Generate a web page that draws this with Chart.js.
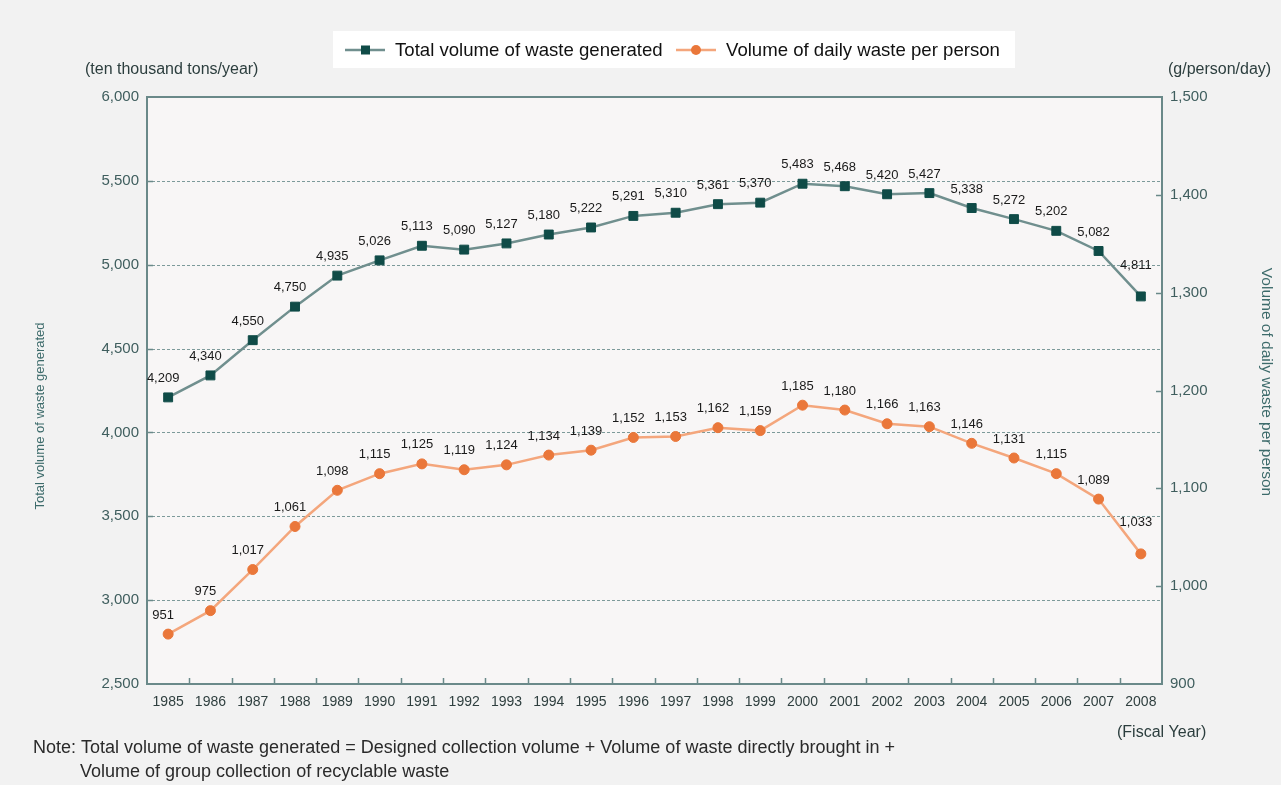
<!DOCTYPE html>
<html>
<head>
<meta charset="utf-8">
<script src="https://cdn.jsdelivr.net/npm/chart.js@4.4.1/dist/chart.umd.min.js"></script>
<style>
  html, body { margin: 0; padding: 0; background: #f2f2f2; }
  canvas { display: block; }
</style>
</head>
<body>
<canvas id="chart" width="1281" height="785"></canvas>
<script>
// Fiscal years on the category axis
const years = ['1985','1986','1987','1988','1989','1990','1991','1992','1993','1994','1995','1996',
               '1997','1998','1999','2000','2001','2002','2003','2004','2005','2006','2007','2008'];

// Total volume of waste generated (ten thousand tons/year)
const totalWaste = [4209, 4340, 4550, 4750, 4935, 5026, 5113, 5090, 5127, 5180, 5222, 5291,
                    5310, 5361, 5370, 5483, 5468, 5420, 5427, 5338, 5272, 5202, 5082, 4811];

// Volume of daily waste per person (g/person/day)
const dailyWaste = [951, 975, 1017, 1061, 1098, 1115, 1125, 1119, 1124, 1134, 1139, 1152,
                    1153, 1162, 1159, 1185, 1180, 1166, 1163, 1146, 1131, 1115, 1089, 1033];

// Axis ranges and tick steps
const leftAxis  = [2500, 6000, 500];
const rightAxis = [900, 1500, 100];

const seriesNames = ['Total volume of waste generated', 'Volume of daily waste per person'];

const FONT = '"Liberation Sans", Arial, sans-serif';
const TEAL_LINE = '#708f8e';
const TEAL_MARK = '#0f4b47';
const ORANGE_LINE = '#f4a67c';
const ORANGE_MARK = '#ea773a';
const AXIS_TEXT = '#3f5e5e';
const FRAME = '#6a8989';

const fmt = v => Number(v).toLocaleString('en-US');

const decor = {
  id: 'decor',
  beforeDraw(chart) {
    const { ctx, chartArea: a } = chart;
    ctx.save();
    ctx.fillStyle = '#f2f2f2';
    ctx.fillRect(0, 0, chart.width, chart.height);
    ctx.fillStyle = '#f8f6f6';
    ctx.fillRect(a.left, a.top, a.right - a.left, a.bottom - a.top);
    ctx.restore();
  },
  beforeDatasetsDraw(chart) {
    const { ctx, chartArea: a, scales } = chart;
    const y = scales.y, y1 = scales.y1, x = scales.x;
    ctx.save();
    // dashed horizontal grid lines on the left-axis ticks
    ctx.strokeStyle = '#7d9a9a';
    ctx.lineWidth = 1;
    ctx.setLineDash([3, 2]);
    y.ticks.forEach(t => {
      if (t.value <= y.min || t.value >= y.max) return;
      const py = Math.round(y.getPixelForValue(t.value)) + 0.5;
      ctx.beginPath();
      ctx.moveTo(a.left, py);
      ctx.lineTo(a.right, py);
      ctx.stroke();
    });
    ctx.setLineDash([]);
    // inward tick marks
    ctx.strokeStyle = FRAME;
    ctx.lineWidth = 1.5;
    y.ticks.forEach(t => {
      if (t.value <= y.min || t.value >= y.max) return;
      const py = Math.round(y.getPixelForValue(t.value)) + 0.5;
      ctx.beginPath(); ctx.moveTo(a.left, py); ctx.lineTo(a.left + 6, py); ctx.stroke();
    });
    y1.ticks.forEach(t => {
      if (t.value <= y1.min || t.value >= y1.max) return;
      const py = Math.round(y1.getPixelForValue(t.value)) + 0.5;
      ctx.beginPath(); ctx.moveTo(a.right - 6, py); ctx.lineTo(a.right, py); ctx.stroke();
    });
    const step = x.getPixelForValue(1) - x.getPixelForValue(0);
    for (let i = 1; i < years.length; i++) {
      const px = Math.round(x.getPixelForValue(i) - step / 2) + 0.5;
      ctx.beginPath(); ctx.moveTo(px, a.bottom); ctx.lineTo(px, a.bottom - 6); ctx.stroke();
    }
    // plot frame
    ctx.strokeStyle = FRAME;
    ctx.lineWidth = 2;
    ctx.strokeRect(a.left, a.top, a.right - a.left, a.bottom - a.top);
    ctx.restore();
  },
  afterDatasetsDraw(chart) {
    const { ctx } = chart;
    ctx.save();
    ctx.font = '13px ' + FONT;
    ctx.fillStyle = '#1a1a1a';
    ctx.textAlign = 'center';
    ctx.textBaseline = 'middle';
    chart.data.datasets.forEach((ds, di) => {
      const meta = chart.getDatasetMeta(di);
      const last = meta.data.length - 1;
      meta.data.forEach((pt, i) => {
        // the final label sits higher, clear of the steep closing segment
        const dy = i === last ? 31 : 19;
        ctx.fillText(fmt(ds.data[i]), pt.x - 5, pt.y - dy);
      });
    });
    ctx.restore();
  },
  afterDraw(chart) {
    const { ctx } = chart;
    ctx.save();
    // legend box
    ctx.fillStyle = '#ffffff';
    ctx.fillRect(333, 31, 682, 37);
    ctx.textBaseline = 'middle';
    ctx.textAlign = 'left';
    const ly = 50;
    ctx.lineWidth = 2.5;
    ctx.strokeStyle = TEAL_LINE;
    ctx.beginPath(); ctx.moveTo(345, ly); ctx.lineTo(385, ly); ctx.stroke();
    ctx.fillStyle = TEAL_MARK;
    ctx.fillRect(361, ly - 4.5, 9, 9);
    ctx.strokeStyle = ORANGE_LINE;
    ctx.beginPath(); ctx.moveTo(676, ly); ctx.lineTo(716, ly); ctx.stroke();
    ctx.fillStyle = ORANGE_MARK;
    ctx.beginPath(); ctx.arc(696, ly, 5, 0, Math.PI * 2); ctx.fill();
    ctx.fillStyle = '#111111';
    ctx.font = '18.6px ' + FONT;
    ctx.fillText(seriesNames[0], 395, ly + 1);
    ctx.fillText(seriesNames[1], 726, ly + 1);

    // unit labels
    ctx.font = '16px ' + FONT;
    ctx.fillStyle = '#2c3e3e';
    ctx.fillText('(ten thousand tons/year)', 85, 70);
    ctx.fillText('(g/person/day)', 1168, 70);
    ctx.fillText('(Fiscal Year)', 1117, 733);

    // axis titles
    ctx.fillStyle = '#3d6b6b';
    ctx.textAlign = 'center';
    ctx.font = '13px ' + FONT;
    ctx.save();
    ctx.translate(40, 416);
    ctx.rotate(-Math.PI / 2);
    ctx.fillText(seriesNames[0], 0, 0);
    ctx.restore();
    ctx.font = '15.5px ' + FONT;
    ctx.save();
    ctx.translate(1266, 382);
    ctx.rotate(Math.PI / 2);
    ctx.fillText(seriesNames[1], 0, 0);
    ctx.restore();

    // note
    ctx.textAlign = 'left';
    ctx.fillStyle = '#2a2a2a';
    ctx.font = '18px ' + FONT;
    ctx.fillText('Note: Total volume of waste generated = Designed collection volume + Volume of waste directly brought in +', 33, 748);
    ctx.fillText('Volume of group collection of recyclable waste', 80, 772);
    ctx.restore();
  }
};

new Chart(document.getElementById('chart'), {
  type: 'line',
  data: {
    labels: years,
    datasets: [
      {
        label: seriesNames[0],
        data: totalWaste,
        yAxisID: 'y',
        borderColor: TEAL_LINE,
        borderWidth: 2.5,
        pointStyle: 'rect',
        pointRadius: 6.3,
        pointBackgroundColor: TEAL_MARK,
        pointBorderColor: TEAL_MARK,
        pointBorderWidth: 1,
        tension: 0
      },
      {
        label: seriesNames[1],
        data: dailyWaste,
        yAxisID: 'y1',
        borderColor: ORANGE_LINE,
        borderWidth: 2.5,
        pointStyle: 'circle',
        pointRadius: 5,
        pointBackgroundColor: ORANGE_MARK,
        pointBorderColor: ORANGE_MARK,
        pointBorderWidth: 1,
        tension: 0
      }
    ]
  },
  options: {
    responsive: false,
    animation: false,
    devicePixelRatio: 1,
    layout: { padding: { top: 97, left: 0, right: 0, bottom: 0 } },
    plugins: { legend: { display: false }, tooltip: { enabled: false } },
    scales: {
      x: {
        offset: true,
        grid: { display: false, drawTicks: false },
        border: { display: false },
        ticks: { font: { family: FONT, size: 14 }, color: '#2f3f3f', padding: 10, maxRotation: 0, autoSkip: false },
        afterFit(s) { s.height = 101; }
      },
      y: {
        position: 'left',
        min: leftAxis[0], max: leftAxis[1],
        grid: { display: false, drawTicks: false },
        border: { display: false },
        ticks: { stepSize: leftAxis[2], callback: fmt, font: { family: FONT, size: 15 }, color: AXIS_TEXT, padding: 8 },
        afterFit(s) { s.width = 147; }
      },
      y1: {
        position: 'right',
        min: rightAxis[0], max: rightAxis[1],
        grid: { display: false, drawTicks: false },
        border: { display: false },
        ticks: { stepSize: rightAxis[2], callback: fmt, font: { family: FONT, size: 15 }, color: AXIS_TEXT, padding: 8 },
        afterFit(s) { s.width = 1281 - 1162; }
      }
    }
  },
  plugins: [decor]
});
</script>
</body>
</html>
